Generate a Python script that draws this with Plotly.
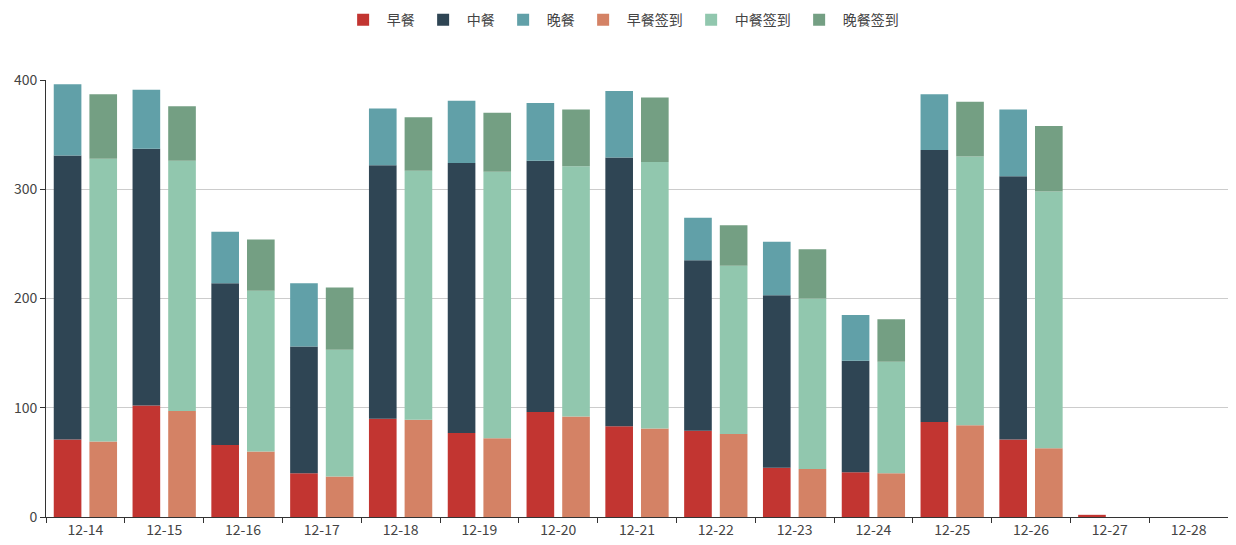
import plotly.graph_objects as go
import numpy as np

categories = ["12-14", "12-15", "12-16", "12-17", "12-18", "12-19", "12-20",
              "12-21", "12-22", "12-23", "12-24", "12-25", "12-26", "12-27", "12-28"]

breakfast = [71, 102, 66, 40, 90, 77, 96, 83, 79, 45, 41, 87, 71, 2, 0]
lunch = [260, 235, 148, 116, 232, 247, 230, 246, 156, 158, 102, 249, 241, 0, 0]
dinner = [65, 54, 47, 58, 52, 57, 53, 61, 39, 49, 42, 51, 61, 0, 0]

breakfast_sign = [69, 97, 60, 37, 89, 72, 92, 81, 76, 44, 40, 84, 63, 0, 0]
lunch_sign = [259, 229, 147, 116, 228, 244, 229, 244, 154, 156, 102, 246, 235, 0, 0]
dinner_sign = [59, 50, 47, 57, 49, 54, 52, 59, 37, 45, 39, 50, 60, 0, 0]

names = ["早餐", "中餐", "晚餐", "早餐签到", "中餐签到", "晚餐签到"]
colors = ["#c23531", "#2f4554", "#61a0a8", "#d48265", "#91c7ae", "#749f83"]

groups = [
    ("meal", [breakfast, lunch, dinner], names[:3], colors[:3]),
    ("sign", [breakfast_sign, lunch_sign, dinner_sign], names[3:], colors[3:]),
]

fig = go.Figure()
for grp, series, nms, cols in groups:
    base = np.zeros(len(categories))
    for vals, nm, col in zip(series, nms, cols):
        fig.add_trace(go.Bar(
            x=categories, y=vals, base=base.copy(), name=nm,
            offsetgroup=grp, marker=dict(color=col, line=dict(width=0)),
        ))
        base = base + np.array(vals)

font_family = "Noto Sans CJK SC, Noto Sans, sans-serif"
txt = "#444"
# the page body has an 8px default margin, so the figure is drawn 8px in
fig.update_layout(
    width=1228, height=537,
    barmode="group", bargap=0.095, bargroupgap=0.225,
    margin=dict(l=38, r=8, t=72, b=28, autoexpand=False),
    plot_bgcolor="white", paper_bgcolor="white",
    font=dict(family=font_family, size=14, color=txt),
    legend=dict(orientation="h", x=0.487, xanchor="center", y=1.137, yanchor="middle",
                font=dict(size=14, color=txt), itemwidth=37, traceorder="normal"),
    showlegend=True,
)
fig.update_xaxes(
    type="category", tickson="boundaries", ticks="outside", ticklen=5,
    tickcolor="#333", showline=True, linecolor="#333", linewidth=1,
    showgrid=False, tickfont=dict(size=14, color=txt), automargin=False,
)
fig.update_yaxes(
    range=[0, 400], dtick=100, ticks="outside", ticklen=5, tickcolor="#333",
    showline=True, linecolor="#333", linewidth=1,
    showgrid=True, gridcolor="#ccc", gridwidth=1, zeroline=False,
    tickfont=dict(size=14, color=txt), automargin=False,
)

fig.write_html("out.html")
